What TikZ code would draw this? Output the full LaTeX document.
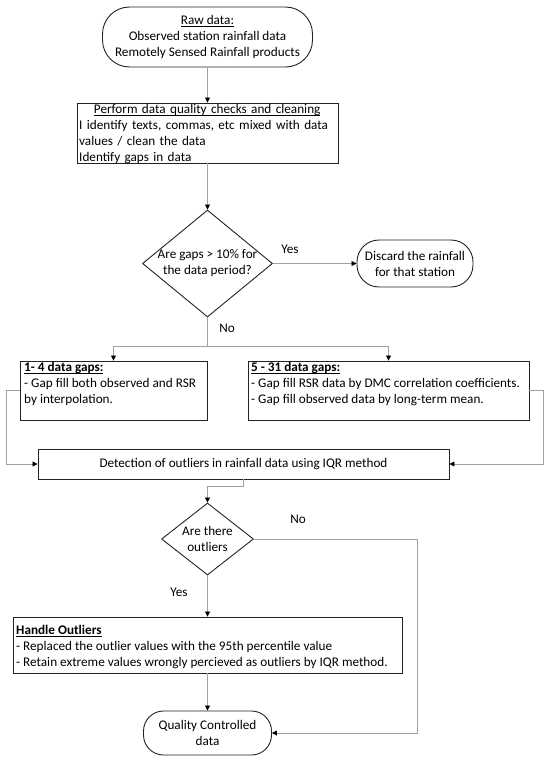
\documentclass[tikz,border=0pt]{standalone}
\usepackage{fontspec}
\setmainfont{Carlito}
\usetikzlibrary{arrows.meta,shapes.geometric}
\definecolor{conncol}{RGB}{160,160,160}
\definecolor{bordcol}{RGB}{35,35,35}
\def\myul#1{\setbox0\hbox{#1}\rlap{\rule[-2pt]{\wd0}{0.6pt}}\box0}
\begin{document}
\begin{tikzpicture}[x=1pt,y=-1pt,
  every node/.style={font=\fontsize{13.2}{16}\selectfont, inner sep=0pt},
  box/.style={draw=bordcol, line width=0.9pt, inner sep=0pt},
  term/.style={box, align=center},
  txt/.style={inner sep=0pt, align=left, anchor=north west},
  conn/.style={draw=conncol, line width=0.8pt},
  arr/.style={conn, -{Triangle[length=5pt,width=5pt,color=black,fill=black]}},
  lbl/.style={inner sep=0pt}]
\useasboundingbox (0,0) rectangle (550,760);

% nodes
\node[term, rounded corners=27pt, minimum width=210pt, minimum height=60pt] (raw) at (207.5,37)
  {\myul{Raw data:}\\Observed station rainfall data\\Remotely Sensed Rainfall products};

\node[box, minimum width=261pt, minimum height=60pt] (chk) at (207.5,133) {};
\node[txt, text width=256pt] (chkt) at (79,104)
  {\makebox[\linewidth][c]{\myul{Perform data quality checks and cleaning}}\\
   I identify texts, commas, etc mixed with data\\
   values / clean the data\\
   Identify gaps in data};

\node[box, diamond, minimum width=130pt, minimum height=107pt] (d1) at (207.5,263.5) {};
\node[align=center] (d1t) at (d1.center) {Are gaps > 10\% for\\the data period?};

\node[term, rounded corners=22pt, minimum width=116pt, minimum height=47pt] (disc) at (415,263.5)
  {Discard the rainfall\\for that station};

\node[box, minimum width=187pt, minimum height=59pt] (g14) at (113.5,390.5) {};
\node[txt] (g14t) at (24,362)
  {\myul{\textbf{1- 4 data gaps:}}\\
   - Gap fill both observed and RSR\\
   by interpolation.};

\node[box, minimum width=281pt, minimum height=59pt] (g531) at (388.5,390.5) {};
\node[txt] (g531t) at (251,362)
  {\myul{\textbf{5 - 31 data gaps:}}\\
   - Gap fill RSR data by DMC correlation coefficients.\\
   - Gap fill observed data by long-term mean.};

\node[box, minimum width=411pt, minimum height=30pt] (det) at (243.5,464)
  {Detection of outliers in rainfall data using IQR method};

\node[box, diamond, minimum width=92pt, minimum height=72pt] (d2) at (207.5,539) {};
\node[align=center] (d2t) at (d2.center) {Are there\\outliers};

\node[box, minimum width=389pt, minimum height=56pt] (ho) at (207.5,645) {};
\node[txt] (hot) at (16,625)
  {\myul{\textbf{Handle Outliers}}\\
   - Replaced the outlier values with the 95th percentile value\\
   - Retain extreme values wrongly percieved as outliers by IQR method.};

\node[term, rounded corners=20pt, minimum width=128pt, minimum height=44pt] (qc) at (207.5,733)
  {Quality Controlled\\data};

% labels
\node[lbl] (yes1) at (290,249) {Yes};
\node[lbl] (no1) at (227,328) {No};
\node[lbl] (no2) at (298,519) {No};
\node[lbl] (yes2) at (179,592) {Yes};

% helper coordinates
\coordinate (split) at (207.5,346);
\coordinate (lloop) at (6,390.5);
\coordinate (rloop) at (543,390.5);
\coordinate (dj) at (243.5,486);
\coordinate (nloop) at (417,539);

% connectors
\draw[arr] (raw.south) -- (chk.north);
\draw[arr] (chk.south) -- (d1.north);
\draw[arr] (d1.east) -- (disc.west);
\draw[conn] (d1.south) -- (split);
\draw[arr] (split) -| (g14.north);
\draw[arr] (split) -| (g531.north);
\draw[arr] (g14.west) -- (lloop) |- (det.west);
\draw[arr] (g531.east) -- (rloop) |- (det.east);
\draw[arr] (det.south) -- (dj) -| (d2.north);
\draw[arr] (d2.south) -- (ho.north);
\draw[arr] (ho.south) -- (qc.north);
\draw[arr] (d2.east) -- (nloop) |- (qc.east);
\end{tikzpicture}
\end{document}
